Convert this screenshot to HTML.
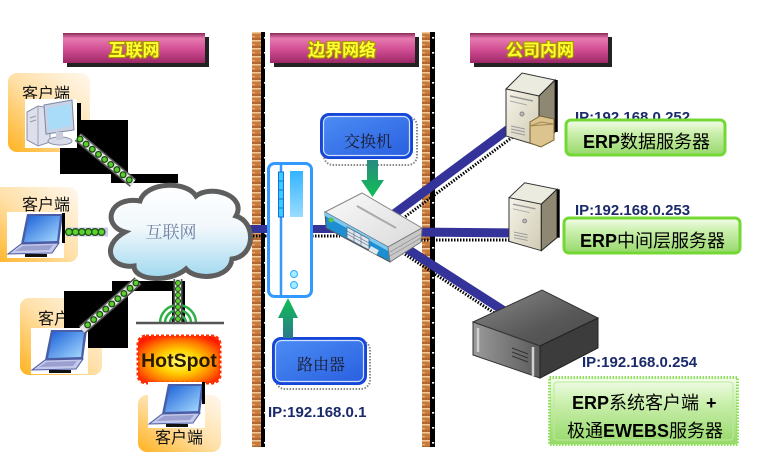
<!DOCTYPE html>
<html><head><meta charset="utf-8"><style>
html,body{margin:0;padding:0;background:#fff;}
svg{display:block;}
text{font-family:"Liberation Sans","Noto Sans CJK SC",sans-serif;}
.cjk{font-family:"Liberation Sans","Noto Sans CJK SC",sans-serif;}
.serif{font-family:"Liberation Serif","Noto Serif CJK SC",serif;}
</style></head><body>
<svg width="759" height="459" viewBox="0 0 759 459" xmlns="http://www.w3.org/2000/svg">
<defs>
 <linearGradient id="banner" x1="0" y1="0" x2="0" y2="1">
  <stop offset="0" stop-color="#8a2858"/>
  <stop offset="0.18" stop-color="#e67ab0"/>
  <stop offset="0.55" stop-color="#d24e94"/>
  <stop offset="1" stop-color="#9c2866"/>
 </linearGradient>
 <linearGradient id="orange" x1="1" y1="0" x2="0" y2="1">
  <stop offset="0" stop-color="#fff8ee"/>
  <stop offset="0.5" stop-color="#ffe0a8"/>
  <stop offset="1" stop-color="#ffb21e"/>
 </linearGradient>
 <linearGradient id="cloud" x1="0" y1="0" x2="0" y2="1">
  <stop offset="0" stop-color="#ffffff"/>
  <stop offset="0.45" stop-color="#f2f8fc"/>
  <stop offset="1" stop-color="#9fd8ee"/>
 </linearGradient>
 <linearGradient id="bluefill" x1="0" y1="0" x2="1" y2="1">
  <stop offset="0" stop-color="#4c8cf4"/>
  <stop offset="1" stop-color="#2a60e0"/>
 </linearGradient>
 <linearGradient id="green" x1="0" y1="0" x2="0" y2="1">
  <stop offset="0" stop-color="#f4fdec"/>
  <stop offset="0.35" stop-color="#cdf0b0"/>
  <stop offset="1" stop-color="#96d86a"/>
 </linearGradient>
 <linearGradient id="arrowDown" x1="0" y1="0" x2="0" y2="1">
  <stop offset="0" stop-color="#2a8a80"/>
  <stop offset="1" stop-color="#0fbf55"/>
 </linearGradient>
 <linearGradient id="arrowUp" x1="0" y1="1" x2="0" y2="0">
  <stop offset="0" stop-color="#2a7a8a"/>
  <stop offset="1" stop-color="#0fbf55"/>
 </linearGradient>
 <linearGradient id="scr" x1="0" y1="0" x2="1" y2="1">
  <stop offset="0" stop-color="#1a5fd8"/>
  <stop offset="1" stop-color="#a8dcff"/>
 </linearGradient>
 <linearGradient id="routerbar" x1="0" y1="0" x2="0" y2="1">
  <stop offset="0" stop-color="#33b4ff"/>
  <stop offset="1" stop-color="#9adcff"/>
 </linearGradient>
 <linearGradient id="towerGrad" x1="0" y1="0" x2="1" y2="1">
  <stop offset="0" stop-color="#f6f4ea"/>
  <stop offset="1" stop-color="#cfcab2"/>
 </linearGradient>
 <linearGradient id="racktop" x1="0" y1="0" x2="1" y2="1">
  <stop offset="0" stop-color="#8a8a8a"/>
  <stop offset="0.6" stop-color="#585858"/>
  <stop offset="1" stop-color="#4a4a4a"/>
 </linearGradient>
 <linearGradient id="rackfront" x1="0" y1="0" x2="1" y2="0">
  <stop offset="0" stop-color="#9a9a9a"/>
  <stop offset="1" stop-color="#5a5a5a"/>
 </linearGradient>
 <linearGradient id="swtop" x1="0" y1="0" x2="1" y2="1">
  <stop offset="0" stop-color="#fafafa"/>
  <stop offset="1" stop-color="#dadada"/>
 </linearGradient>
 <radialGradient id="flame" cx="50%" cy="55%" r="62%">
  <stop offset="0" stop-color="#ffff70"/>
  <stop offset="0.4" stop-color="#ffd000"/>
  <stop offset="0.72" stop-color="#ff7a00"/>
  <stop offset="1" stop-color="#ff1a00"/>
 </radialGradient>
 <pattern id="brick" width="10" height="8" patternUnits="userSpaceOnUse">
  <rect width="10" height="8" fill="#c97b3e"/>
  <rect y="0" width="10" height="1.5" fill="#f2c898"/>
  <rect y="4" width="5" height="1.2" fill="#e8b078"/>
  <rect y="6.5" width="10" height="1" fill="#9a5524"/>
 </pattern>
 <pattern id="dash" width="6" height="15" patternUnits="userSpaceOnUse">
  <rect width="6" height="15" fill="#000"/>
  <rect x="0" y="7" width="2.2" height="1.6" fill="#fff"/>
 </pattern>
 <g id="laptop">
  <rect x="0" y="0" width="57" height="46" fill="#fff"/>
  <polygon points="20,2 56,2 52,31 14,32" fill="#4a5ea8"/>
  <polygon points="22,4 53,4 50,29 17,30" fill="url(#scr)"/>
  <polygon points="14,32 52,31 45,41 1,42" fill="#c4c8ea" stroke="#4a5aa0" stroke-width="1"/>
  <polygon points="16,34 46,33 42,38 8,39" fill="#9aa0d0"/>
  <rect x="18" y="42" width="22" height="3" fill="#111"/>
 </g>
 <g id="towerShape">
  <polygon points="1,19 17,3 50,10 34,26" fill="#ecebe0" stroke="#333" stroke-width="1"/>
  <polygon points="1,19 34,26 34,76 1,66" fill="url(#towerGrad)" stroke="#333" stroke-width="1"/>
  <polygon points="34,26 50,10 50,62 34,76" fill="#8e8872" stroke="#222" stroke-width="1"/>
  <line x1="51.5" y1="10" x2="51.5" y2="62" stroke="#000" stroke-width="2.5"/>
  <line x1="5" y1="26" x2="28" y2="31" stroke="#999" stroke-width="1.5"/>
  <line x1="5" y1="31" x2="22" y2="35" stroke="#aaa" stroke-width="1"/>
  <circle cx="17" cy="44" r="2" fill="#bbb" stroke="#888"/>
  <line x1="6" y1="56" x2="20" y2="59" stroke="#999" stroke-width="1"/>
  <line x1="6" y1="59" x2="20" y2="62" stroke="#999" stroke-width="1"/>
  <line x1="6" y1="62" x2="20" y2="65" stroke="#999" stroke-width="1"/>
 </g>
</defs>

<rect width="759" height="459" fill="#fff"/>

<!-- walls -->
<rect x="252" y="32" width="9" height="415" fill="url(#brick)"/>
<rect x="261" y="32" width="4" height="415" fill="url(#dash)"/>
<rect x="422" y="32" width="8" height="415" fill="url(#brick)"/>
<rect x="430" y="32" width="5" height="415" fill="url(#dash)"/>

<!-- banners -->
<rect x="67" y="37" width="142" height="30" fill="#222"/>
<rect x="63" y="33" width="142" height="30" fill="url(#banner)"/>
<text x="134" y="56" text-anchor="middle" font-size="17" font-weight="bold" fill="#ffff30" stroke="#a89400" stroke-width="2.2" paint-order="stroke" class="cjk">互联网</text>
<rect x="274" y="37" width="145" height="30" fill="#222"/>
<rect x="270" y="33" width="145" height="30" fill="url(#banner)"/>
<text x="342" y="56" text-anchor="middle" font-size="17" font-weight="bold" fill="#ffff30" stroke="#a89400" stroke-width="2.2" paint-order="stroke" class="cjk">边界网络</text>
<rect x="474" y="37" width="138" height="30" fill="#222"/>
<rect x="470" y="33" width="138" height="30" fill="url(#banner)"/>
<text x="540" y="56" text-anchor="middle" font-size="17" font-weight="bold" fill="#ffff30" stroke="#a89400" stroke-width="2.2" paint-order="stroke" class="cjk">公司内网</text>

<!-- network lines -->
<g stroke-linecap="butt">
 <line x1="250" y1="236" x2="312" y2="236" stroke="#000" stroke-width="3" stroke-dasharray="1.5 1.5"/>
 <line x1="312" y1="236" x2="340" y2="236" stroke="#000" stroke-width="3" stroke-dasharray="1.5 1.5"/>
 <line x1="415" y1="240" x2="512" y2="240" stroke="#000" stroke-width="3" stroke-dasharray="1.5 1.5"/>
 <line x1="398" y1="222" x2="514" y2="136" stroke="#000" stroke-width="3" stroke-dasharray="1.5 1.5"/>
 <line x1="400" y1="251" x2="508" y2="322" stroke="#000" stroke-width="3" stroke-dasharray="1.5 1.5"/>
 <line x1="248" y1="229" x2="340" y2="229" stroke="#333399" stroke-width="8"/>
 <line x1="410" y1="232" x2="516" y2="233" stroke="#333399" stroke-width="9"/>
 <line x1="390" y1="217" x2="510" y2="128" stroke="#333399" stroke-width="9"/>
 <line x1="398" y1="243" x2="515" y2="318" stroke="#333399" stroke-width="9"/>
</g>

<!-- client 1 -->
<rect x="8" y="73" width="82" height="79" rx="9" fill="url(#orange)"/>
<text x="22" y="99" font-size="16" fill="#111" class="cjk">客户端</text>
<rect x="60" y="120" width="68" height="54" fill="#000"/>
<rect x="111" y="174" width="67" height="9" fill="#000"/>
<rect x="77" y="103" width="4" height="42" fill="#000"/>
<g>
 <rect x="25" y="99" width="52" height="49" fill="#fff"/>
 <polygon points="27,112 38,106 50,108 50,142 38,146 27,140" fill="#dde0ec" stroke="#8a90aa" stroke-width="1"/>
 <line x1="38" y1="106" x2="38" y2="146" stroke="#9aa0ba" stroke-width="1"/>
 <line x1="30" y1="118" x2="36" y2="116" stroke="#999"/>
 <line x1="30" y1="122" x2="36" y2="120" stroke="#999"/>
 <polygon points="44,105 72,100 74,130 46,134" fill="#c8d2e4" stroke="#7c86a8" stroke-width="1"/>
 <polygon points="47,108 70,104 71,126 49,130" fill="#a8dcf8"/>
 <ellipse cx="60" cy="141" rx="12" ry="4" fill="#d8dce8" stroke="#8a90aa"/>
 <rect x="56" y="132" width="7" height="8" fill="#c8ccdc"/>
</g>
<!-- chain 1 -->
<g>
 <line x1="78" y1="137" x2="133" y2="183" stroke="#555" stroke-width="10"/>
 <line x1="78" y1="137" x2="133" y2="183" stroke="#e6e6e6" stroke-width="7"/>
 <line x1="80" y1="139" x2="133" y2="183" stroke="#1a4a10" stroke-width="7" stroke-dasharray="0 8" stroke-linecap="round"/>
 <line x1="80" y1="139" x2="133" y2="183" stroke="#5cd030" stroke-width="4.5" stroke-dasharray="0 8" stroke-linecap="round"/>
</g>

<!-- client 2 -->
<rect x="-10" y="187" width="88" height="75" rx="9" fill="url(#orange)"/>
<text x="22" y="210" font-size="16" fill="#111" class="cjk">客户端</text>
<use href="#laptop" x="7" y="212"/>
<rect x="62" y="213" width="3" height="30" fill="#000"/>
<g>
 <line x1="66" y1="232" x2="108" y2="232" stroke="#c8c8e8" stroke-width="9"/>
 <line x1="69" y1="232" x2="108" y2="232" stroke="#1a4a10" stroke-width="8" stroke-dasharray="0 6.5" stroke-linecap="round"/>
 <line x1="69" y1="232" x2="108" y2="232" stroke="#5cd030" stroke-width="5.5" stroke-dasharray="0 6.5" stroke-linecap="round"/>
</g>

<!-- cloud -->
<path d="M 125 232 C 102 226, 108 196, 140 201 C 146 182, 186 180, 196 196 C 212 184, 247 196, 236 216 C 256 222, 256 256, 232 259 C 230 279, 196 281, 186 269 C 170 283, 134 281, 134 266 C 110 269, 100 246, 125 232 Z" fill="url(#cloud)" stroke="#5e5e5e" stroke-width="5"/>
<text x="171" y="238" text-anchor="middle" font-size="17" fill="#6f7f9f" class="serif">互联网</text>

<!-- client 3 -->
<rect x="20" y="298" width="82" height="77" rx="9" fill="url(#orange)"/>
<text x="38" y="324" font-size="16" fill="#111" class="cjk">客户端</text>
<rect x="112" y="281" width="73" height="10" fill="#000"/>
<rect x="64" y="291" width="64" height="57" fill="#000"/>
<rect x="172" y="281" width="13" height="42" fill="#000"/>
<use href="#laptop" x="31" y="328"/>
<g>
 <line x1="138" y1="281" x2="82" y2="330" stroke="#555" stroke-width="10"/>
 <line x1="138" y1="281" x2="82" y2="330" stroke="#e6e6e6" stroke-width="7"/>
 <line x1="136" y1="283" x2="84" y2="328" stroke="#1a4a10" stroke-width="7" stroke-dasharray="0 8" stroke-linecap="round"/>
 <line x1="136" y1="283" x2="84" y2="328" stroke="#5cd030" stroke-width="4.5" stroke-dasharray="0 8" stroke-linecap="round"/>
</g>

<!-- hotspot -->
<g fill="none" stroke="#30b048" stroke-width="2.5">
 <path d="M 170 323 A 8 8 0 0 1 186 323"/>
 <path d="M 165 323 A 13 13 0 0 1 191 323"/>
 <path d="M 160 323 A 18 18 0 0 1 196 323"/>
</g>
<g>
 <line x1="178" y1="279" x2="178" y2="322" stroke="#555" stroke-width="9"/>
 <line x1="178" y1="279" x2="178" y2="322" stroke="#e6e6e6" stroke-width="6"/>
 <line x1="178" y1="283" x2="178" y2="322" stroke="#1a4a10" stroke-width="6" stroke-dasharray="0 6" stroke-linecap="round"/>
 <line x1="178" y1="283" x2="178" y2="322" stroke="#5cd030" stroke-width="4" stroke-dasharray="0 6" stroke-linecap="round"/>
</g>
<line x1="136" y1="323" x2="224" y2="323" stroke="#555" stroke-width="2.5"/>
<rect x="138" y="336" width="82" height="47" rx="8" fill="url(#flame)"/>
<rect x="138" y="336" width="82" height="47" rx="8" fill="none" stroke="#ff3000" stroke-width="3" stroke-dasharray="3 2"/>
<text x="179" y="367" text-anchor="middle" font-size="19.5" font-weight="bold" fill="#2a1800">HotSpot</text>
<rect x="138" y="395" width="83" height="57" rx="9" fill="url(#orange)"/>
<use href="#laptop" x="148" y="382"/>
<rect x="202" y="382" width="3" height="22" fill="#000"/>
<text x="155" y="443" font-size="16" fill="#111" class="cjk">客户端</text>

<!-- router device -->
<rect x="268.5" y="163.5" width="43" height="133" rx="6" fill="#fff" stroke="#3399ff" stroke-width="3"/>
<line x1="281" y1="164" x2="281" y2="296" stroke="#3399ff" stroke-width="2.5"/>
<rect x="278.5" y="172" width="5" height="45" fill="#38ccff" stroke="#1a70d0" stroke-width="1"/>
<g stroke="#1a70d0" stroke-width="1">
 <line x1="278.5" y1="181" x2="283.5" y2="181"/>
 <line x1="278.5" y1="190" x2="283.5" y2="190"/>
 <line x1="278.5" y1="199" x2="283.5" y2="199"/>
 <line x1="278.5" y1="208" x2="283.5" y2="208"/>
</g>
<rect x="290" y="171" width="13" height="46" fill="url(#routerbar)"/>
<circle cx="294" cy="274" r="3.5" fill="#a0eeff" stroke="#33aaff" stroke-width="1"/>
<circle cx="294" cy="285" r="3.5" fill="#a0eeff" stroke="#33aaff" stroke-width="1"/>

<!-- switch box label -->
<rect x="324" y="117" width="93" height="48" rx="9" fill="none" stroke="#888" stroke-width="2" stroke-dasharray="1.5 1.5"/>
<rect x="320" y="113" width="93" height="46" rx="9" fill="#1446d8"/>
<rect x="323.5" y="116.5" width="86" height="39" rx="6" fill="url(#bluefill)" stroke="#d0e0ff" stroke-width="1.2"/>
<text x="368" y="147" text-anchor="middle" font-size="16" fill="#1a1a2a" class="serif">交换机</text>
<!-- arrow down -->
<polygon points="367,160 378,160 378,180 384,180 372.5,197 361,180 367,180" fill="url(#arrowDown)"/>

<!-- switch -->
<polygon points="325,212 362,193 422,228 388,247" fill="url(#swtop)" stroke="#888" stroke-width="1"/>
<line x1="357" y1="206" x2="396" y2="228" stroke="#aaa" stroke-width="2"/>
<polygon points="325,212 388,247 390,262 326,228" fill="#1e8ed2" stroke="#555" stroke-width="1"/>
<polygon points="325,212 388,247 388,251 325,216" fill="#7cc8f0"/>
<polygon points="347,227 369,239 369,250 347,238" fill="#dfe8f0" stroke="#5a6a80" stroke-width="0.8"/>
<g stroke="#5a6a80" stroke-width="0.6">
 <line x1="347" y1="231" x2="369" y2="243"/>
 <line x1="347" y1="234" x2="369" y2="246"/>
 <line x1="354" y1="231" x2="354" y2="242"/>
 <line x1="361" y1="235" x2="361" y2="246"/>
</g>
<rect x="371" y="246" width="9" height="5" fill="#dfe8f0" transform="rotate(29 371 246)"/>
<circle cx="331" cy="220" r="2.5" fill="#60c040"/>
<polygon points="388,247 422,228 421,242 390,262" fill="#c8c8c8" stroke="#777" stroke-width="1"/>
<g stroke="#999" stroke-width="0.8">
 <line x1="390" y1="252" x2="421" y2="234"/>
 <line x1="390" y1="256" x2="421" y2="238"/>
</g>

<!-- router label -->
<rect x="276" y="341" width="94" height="48" rx="9" fill="none" stroke="#888" stroke-width="2" stroke-dasharray="1.5 1.5"/>
<rect x="272" y="337" width="95" height="48" rx="9" fill="#1446d8"/>
<rect x="275.5" y="340.5" width="88" height="41" rx="6" fill="url(#bluefill)" stroke="#d0e0ff" stroke-width="1.2"/>
<text x="321" y="370" text-anchor="middle" font-size="16" fill="#1a1a2a" class="serif">路由器</text>
<!-- arrow up -->
<polygon points="283,338 293,338 293,318 298,318 288,298 278,318 283,318" fill="url(#arrowUp)"/>

<text x="268" y="417" font-size="15" font-weight="bold" fill="#1a2a6a">IP:192.168.0.1</text>

<!-- server 1 -->
<use href="#towerShape" x="505" y="70"/>
<polygon points="530,122 540,116 554,119 554,140 541,147 530,143" fill="#dcc48e" stroke="#7a6238" stroke-width="1"/>
<polygon points="530,126 541,122 554,124" fill="none" stroke="#a08850" stroke-width="1"/>
<text x="575" y="122" font-size="15" font-weight="bold" fill="#1a2a6a">IP:192.168.0.252</text>
<rect x="566" y="120" width="159" height="35" rx="5" fill="url(#green)" stroke="#74d834" stroke-width="3"/>
<text x="583" y="148" font-size="18" fill="#000"><tspan font-weight="bold">ERP</tspan><tspan class="cjk">数据服务器</tspan></text>

<!-- server 2 -->
<g transform="translate(508,180) scale(0.98,0.93)"><use href="#towerShape"/></g>
<text x="575" y="215" font-size="15" font-weight="bold" fill="#1a2a6a">IP:192.168.0.253</text>
<rect x="564" y="218" width="176" height="35" rx="5" fill="url(#green)" stroke="#74d834" stroke-width="3"/>
<text x="580" y="247" font-size="18" fill="#000"><tspan font-weight="bold">ERP</tspan><tspan class="cjk">中间层服务器</tspan></text>

<!-- server 3 rack -->
<polygon points="473,322 542,290 598,318 540,346" fill="url(#racktop)" stroke="#333" stroke-width="1"/>
<polygon points="473,322 540,346 540,378 473,355" fill="url(#rackfront)" stroke="#333" stroke-width="1"/>
<polygon points="540,346 598,318 598,348 540,378" fill="#3c3c3c" stroke="#222" stroke-width="1"/>
<line x1="478" y1="328" x2="478" y2="352" stroke="#d0d0d0" stroke-width="2.5"/>
<line x1="533" y1="347" x2="533" y2="376" stroke="#d0d0d0" stroke-width="2.5"/>
<g stroke="#333" stroke-width="1">
 <line x1="512" y1="348" x2="528" y2="354"/>
 <line x1="512" y1="352" x2="528" y2="358"/>
 <line x1="512" y1="356" x2="528" y2="362"/>
</g>
<text x="582" y="367" font-size="15" font-weight="bold" fill="#1a2a6a">IP:192.168.0.254</text>

<rect x="549.5" y="377.5" width="188" height="67" fill="url(#green)" stroke="#8ee05a" stroke-width="3" stroke-dasharray="1.5 1.5"/>
<rect x="554" y="382" width="179" height="58" rx="3" fill="none" stroke="#b8ec98" stroke-width="1"/>
<text x="572" y="409" font-size="18" fill="#000"><tspan font-weight="bold">ERP</tspan><tspan class="cjk">系统客户端</tspan></text>
<text x="706" y="409" font-size="18" font-weight="bold" fill="#000">+</text>
<text x="567" y="437" font-size="18" fill="#000"><tspan class="cjk">极通</tspan><tspan font-weight="bold">EWEBS</tspan><tspan class="cjk">服务器</tspan></text>
</svg>
</body></html>
